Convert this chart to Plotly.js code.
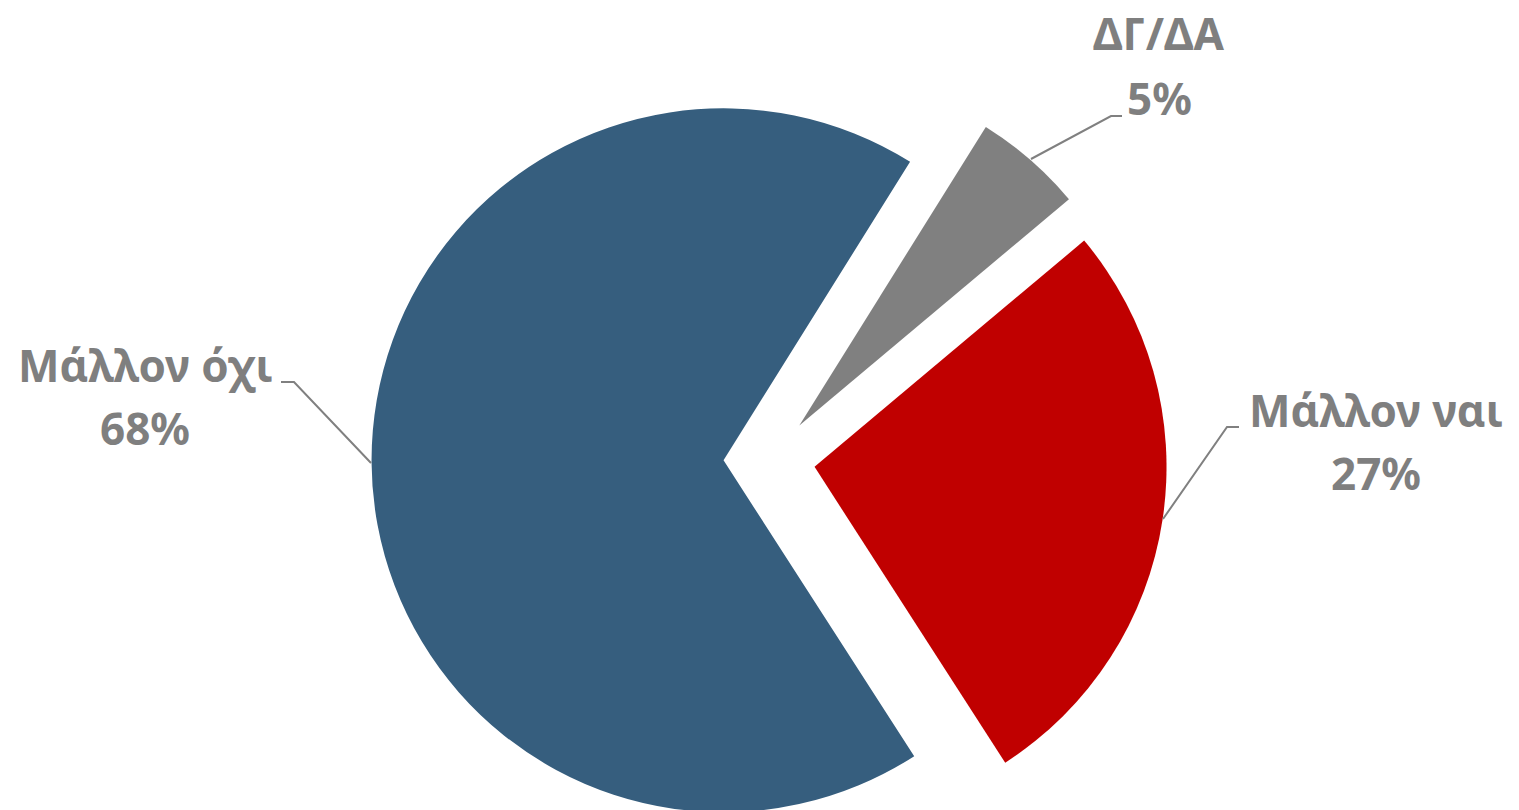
<!DOCTYPE html>
<html>
<head>
<meta charset="utf-8">
<script src="https://cdn.plot.ly/plotly-3.0.1.min.js"></script>
<style>
  html, body { margin: 0; padding: 0; overflow: hidden; background: #ffffff; }
  #chart { width: 1519px; height: 920px; }
</style>
</head>
<body>
<div id="chart"></div>
<script>
// ---- data ----
const categories = ['Μάλλον ναι', 'Μάλλον όχι', 'ΔΓ/ΔΑ'];
const values = [27, 68, 5];
const sliceColors = ['#C00000', '#365E7E', '#808080'];

// ---- layout helpers (label placement in pixels of the 1519 x 920 canvas) ----
const W = 1519, H = 920;
const px = x => x / W;
const py = y => 1 - y / H;

const FONT = '"Noto Sans", "Open Sans", sans-serif';
const TEXT_COLOR = '#7F7F7F';
const FS = 44;
const BASE_SHIFT = 0.388 * FS; // baseline -> visual middle of the text box

const labelPlacement = [
  { idx: 0, cx: 1376, b1: 427, b2: 490, line: [[1163, 519], [1227, 427], [1239, 427]] },
  { idx: 1, cx: 145, b1: 382, b2: 445, line: [[371, 463], [294, 382], [281, 382]] },
  { idx: 2, cx: 1159, b1: 50, b2: 115, line: [[1031, 159], [1111, 116], [1122, 116]] }
];

const total = values.reduce((a, b) => a + b, 0);

const annotations = [];
labelPlacement.forEach(p => {
  const lines = [categories[p.idx], Math.round(values[p.idx] / total * 100) + '%'];
  [p.b1, p.b2].forEach((b, i) => {
    annotations.push({
      xref: 'paper', yref: 'paper',
      x: px(p.cx), y: py(b - BASE_SHIFT),
      xanchor: 'center', yanchor: 'middle', align: 'center',
      showarrow: false,
      text: '<b>' + lines[i] + '</b>',
      font: { family: FONT, size: FS, color: TEXT_COLOR }
    });
  });
});

const shapes = labelPlacement.map(p => ({
  type: 'path', xref: 'paper', yref: 'paper',
  path: p.line.map((pt, i) => (i ? 'L ' : 'M ') + px(pt[0]) + ' ' + py(pt[1])).join(' '),
  line: { color: '#808080', width: 2 }
}));

const trace = {
  type: 'pie',
  labels: categories,
  values: values,
  sort: false,
  direction: 'clockwise',
  rotation: 50,
  pull: [0.13, 0.13, 0.13],
  marker: { colors: sliceColors, line: { width: 0 } },
  textinfo: 'none',
  hoverinfo: 'skip',
  domain: { x: [0.2446, 0.7683], y: [0, 1] }
};

const layout = {
  width: W, height: H,
  margin: { l: 0, r: 0, t: 0, b: 0 },
  showlegend: false,
  paper_bgcolor: '#ffffff',
  plot_bgcolor: '#ffffff',
  annotations: annotations,
  shapes: shapes
};

Plotly.newPlot('chart', [trace], layout, { staticPlot: true, displayModeBar: false });
</script>
</body>
</html>
